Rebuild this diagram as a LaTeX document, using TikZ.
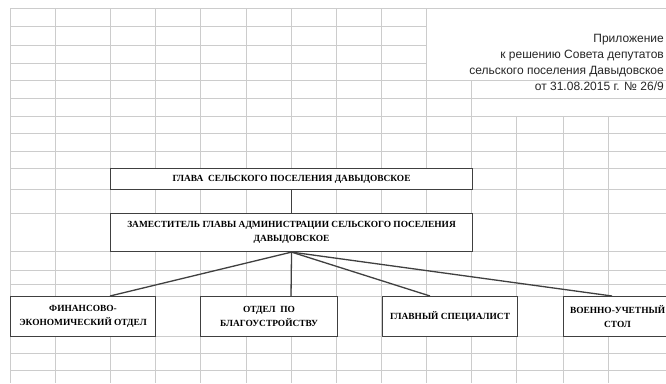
\documentclass[tikz,border=0pt]{standalone}
\usepackage{fontspec}
\setmainfont{Liberation Serif}
\newfontfamily\apxfont{Liberation Sans}
\usetikzlibrary{positioning}

\tikzset{
  gridline/.style={draw=black!20,line width=0.7pt},
  orgbox/.style={draw=black!75,line width=1.1pt,fill=white,inner sep=1pt,
    anchor=north west,align=center,text=black,
    font=\fontsize{9.4}{14}\selectfont\bfseries},
  link/.style={draw=black!75,line width=1.3pt}
}

\begin{document}
\begin{tikzpicture}[x=1pt,y=-1pt]
\useasboundingbox (0,0) rectangle (666,383);
\clip (0,0) rectangle (666,383);
\fill[white] (0,0) rectangle (666,383);
% sheet grid
\foreach \gx in {10,55,110,155,200,246,291,336,381,426}
  \draw[gridline] (\gx,8) -- (\gx,383);
\draw[gridline] (471,80) -- (471,383);
\foreach \gx in {516,563,608}
  \draw[gridline] (\gx,116) -- (\gx,383);
\foreach \gy in {26,45,63}
  \draw[gridline] (10,\gy) -- (426,\gy);
\foreach \gy in {8,80,98,116,133,151,168,189,213,251,270,284,296,336,353,370}
  \draw[gridline] (10,\gy) -- (666,\gy);

% appendix note
\node[anchor=north east,align=right,inner sep=0pt,text=black!85,
  font=\apxfont\fontsize{12}{16}\selectfont] (apx) at (664,34)
  {Приложение\\к решению Совета депутатов\\сельского поселения Давыдовское\\от 31.08.2015 г. № 26/9};

% boxes
\node[orgbox,minimum width=362pt,minimum height=21pt] (head) at (110,168)
  {ГЛАВА\ \ СЕЛЬСКОГО ПОСЕЛЕНИЯ ДАВЫДОВСКОЕ};
\node[orgbox,minimum width=362pt,minimum height=38pt] (deputy) at (110,213)
  {ЗАМЕСТИТЕЛЬ ГЛАВЫ АДМИНИСТРАЦИИ СЕЛЬСКОГО ПОСЕЛЕНИЯ\\ДАВЫДОВСКОЕ};
\node[orgbox,minimum width=145pt,minimum height=40pt] (finance) at (10,296)
  {ФИНАНСОВО-\\ЭКОНОМИЧЕСКИЙ ОТДЕЛ};
\node[orgbox,minimum width=137pt,minimum height=40pt] (improve) at (200,296)
  {ОТДЕЛ\ \ ПО\\БЛАГОУСТРОЙСТВУ};
\node[orgbox,minimum width=135pt,minimum height=40pt] (expert) at (382,296)
  {ГЛАВНЫЙ СПЕЦИАЛИСТ};
\node[orgbox,minimum width=108pt,minimum height=40pt] (military) at (563,296)
  {ВОЕННО-УЧЕТНЫЙ\\СТОЛ};

% links
\draw[link] (head.south) -- (deputy.north);
\draw[link] (deputy.south) -- ([xshift=100pt]finance.north west);
\draw[link] (deputy.south) -- ([xshift=91pt]improve.north west);
\draw[link] (deputy.south) -- ([xshift=48pt]expert.north west);
\draw[link] (deputy.south) -- ([xshift=49pt]military.north west);
\end{tikzpicture}
\end{document}
